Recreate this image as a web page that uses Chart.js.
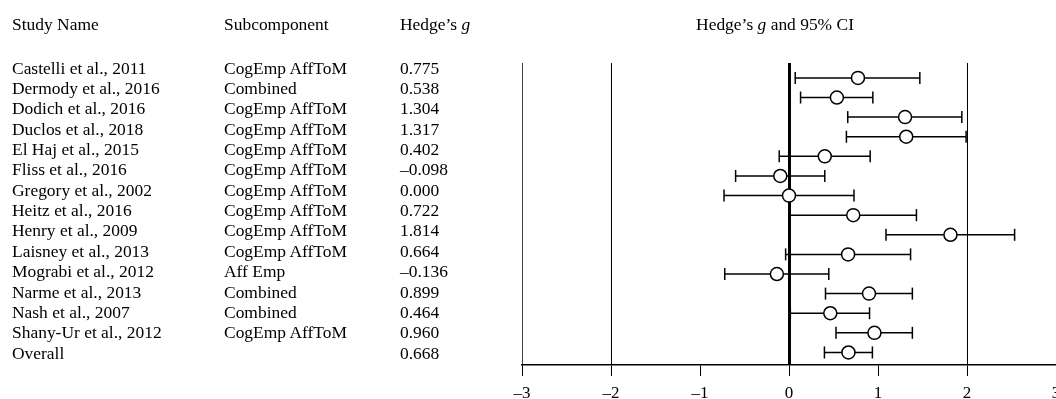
<!DOCTYPE html>
<html lang="en">
    <head>
        <meta charset="UTF-8" />
        <title>Forest plot - Hedge's g</title>
        <style>
            body {
                margin: 0;
                background: #fff;
                font-family: "Liberation Serif", "Times New Roman", serif;
                color: #000;
            }
            .page {
                position: relative;
                width: 1056px;
                height: 399px;
                overflow: hidden;
            }
            .chart-box {
                position: absolute;
                left: 0;
                top: 0;
                width: 1056px;
                height: 399px;
            }
            .cell {
                position: absolute;
                font-size: 16px;
                line-height: 16px;
                white-space: nowrap;
                transform: scaleX(1.09);
                transform-origin: 0 50%;
            }
            .center {
                transform: translateX(-50%) scaleX(1.09);
                transform-origin: 50% 50%;
            }
        </style>
    </head>
    <body>
        <div class="page">
            <div class="chart-box">
                <canvas id="forestChart"></canvas>
            </div>
            <div id="table"></div>
        </div>

        <script src="https://cdn.jsdelivr.net/npm/chart.js"></script>
        <script>
            // data
            const studies = [
                "Castelli et al., 2011",
                "Dermody et al., 2016",
                "Dodich et al., 2016",
                "Duclos et al., 2018",
                "El Haj et al., 2015",
                "Fliss et al., 2016",
                "Gregory et al., 2002",
                "Heitz et al., 2016",
                "Henry et al., 2009",
                "Laisney et al., 2013",
                "Mograbi et al., 2012",
                "Narme et al., 2013",
                "Nash et al., 2007",
                "Shany-Ur et al., 2012",
                "Overall",
            ]
            const subcomponents = [
                "CogEmp AffToM",
                "Combined",
                "CogEmp AffToM",
                "CogEmp AffToM",
                "CogEmp AffToM",
                "CogEmp AffToM",
                "CogEmp AffToM",
                "CogEmp AffToM",
                "CogEmp AffToM",
                "CogEmp AffToM",
                "Aff Emp",
                "Combined",
                "Combined",
                "CogEmp AffToM",
                "",
            ]
            const hedgesG = [
                0.775, 0.538, 1.304, 1.317, 0.402, -0.098, 0.0, 0.722, 1.814,
                0.664, -0.136, 0.899, 0.464, 0.96, 0.668,
            ]
            const ciLower = [
                0.07, 0.13, 0.66, 0.645, -0.11, -0.6, -0.73, 0.012, 1.09,
                -0.038, -0.722, 0.41, 0.015, 0.528, 0.398,
            ]
            const ciUpper = [
                1.47, 0.942, 1.942, 1.99, 0.912, 0.402, 0.73, 1.432, 2.535,
                1.366, 0.447, 1.386, 0.905, 1.386, 0.937,
            ]
            const xTicks = [-3, -2, -1, 0, 1, 2, 3]

            const fmt = (v) =>
                v < 0 ? "\u2013" + Math.abs(v).toFixed(3) : v.toFixed(3)

            // left-hand table (plain text)
            const table = document.getElementById("table")
            const addCell = (html, left, top, cls) => {
                const el = document.createElement("div")
                el.className = "cell" + (cls ? " " + cls : "")
                el.style.left = left + "px"
                el.style.top = top + "px"
                el.innerHTML = html
                table.appendChild(el)
            }
            const headTop = 16.6
            addCell("Study Name", 12, headTop)
            addCell("Subcomponent", 224, headTop)
            addCell("Hedge\u2019s <i>g</i>", 400, headTop)
            addCell("Hedge\u2019s <i>g</i> and 95% CI", 775, headTop, "center")
            studies.forEach((name, i) => {
                const top = 60.6 + 20.36 * i
                addCell(name, 12, top)
                addCell(subcomponents[i], 224, top)
                addCell(fmt(hedgesG[i]), 400, top)
            })

            // one dataset per confidence interval, end caps as vertical points
            const ciSets = studies.map((name, i) => ({
                label: name + " CI",
                data: [
                    { x: ciLower[i], y: i },
                    { x: ciUpper[i], y: i },
                ],
                showLine: true,
                borderColor: "#000",
                borderWidth: 1.5,
                pointStyle: "line",
                rotation: 90,
                pointRadius: 6,
                pointBorderColor: "#000",
                pointBorderWidth: 1.5,
                order: 2,
            }))

            const pointSet = {
                label: "Hedge's g",
                data: hedgesG.map((g, i) => ({ x: g, y: i })),
                pointStyle: "circle",
                pointRadius: 6.5,
                pointBackgroundColor: "#fff",
                pointBorderColor: "#000",
                pointBorderWidth: 1.5,
                order: 1,
            }

            const gridColor = (ctx) => {
                const v = ctx.tick ? ctx.tick.value : null
                if (v === -1 || v === 1) return "rgba(0,0,0,0)"
                if (v === -3) return "#444"
                return "#000"
            }

            Chart.defaults.font.family =
                "'Liberation Serif', 'Times New Roman', serif"
            Chart.defaults.color = "#000"

            new Chart(document.getElementById("forestChart"), {
                type: "scatter",
                data: { datasets: [pointSet, ...ciSets] },
                options: {
                    responsive: true,
                    maintainAspectRatio: false,
                    animation: false,
                    layout: {
                        // no extra room for point overflow: +3 sits on the page edge
                        autoPadding: false,
                        padding: { left: 522, right: 0, top: 63, bottom: 0 },
                    },
                    plugins: {
                        legend: { display: false },
                        tooltip: { enabled: false },
                    },
                    scales: {
                        x: {
                            type: "linear",
                            min: -3,
                            max: 3,
                            afterBuildTicks: (scale) => {
                                scale.ticks = xTicks.map((v) => ({ value: v }))
                            },
                            afterFit: (scale) => {
                                scale.height = 34
                                scale.paddingLeft = 0
                                scale.paddingRight = 0
                            },
                            grid: {
                                color: gridColor,
                                lineWidth: (ctx) =>
                                    ctx.tick && ctx.tick.value === 0 ? 3 : 1,
                                tickColor: "#000",
                                tickWidth: 1,
                                tickLength: 11,
                            },
                            border: { display: true, color: "#000", width: 1.5 },
                            ticks: {
                                padding: 7,
                                font: { size: 17 },
                                maxRotation: 0,
                                callback: (v) =>
                                    v < 0 ? "\u2013" + Math.abs(v) : String(v),
                            },
                        },
                        y: {
                            type: "linear",
                            display: false,
                            reverse: true,
                            min: -0.76,
                            max: 14.64,
                        },
                    },
                },
            })
        </script>
    </body>
</html>
